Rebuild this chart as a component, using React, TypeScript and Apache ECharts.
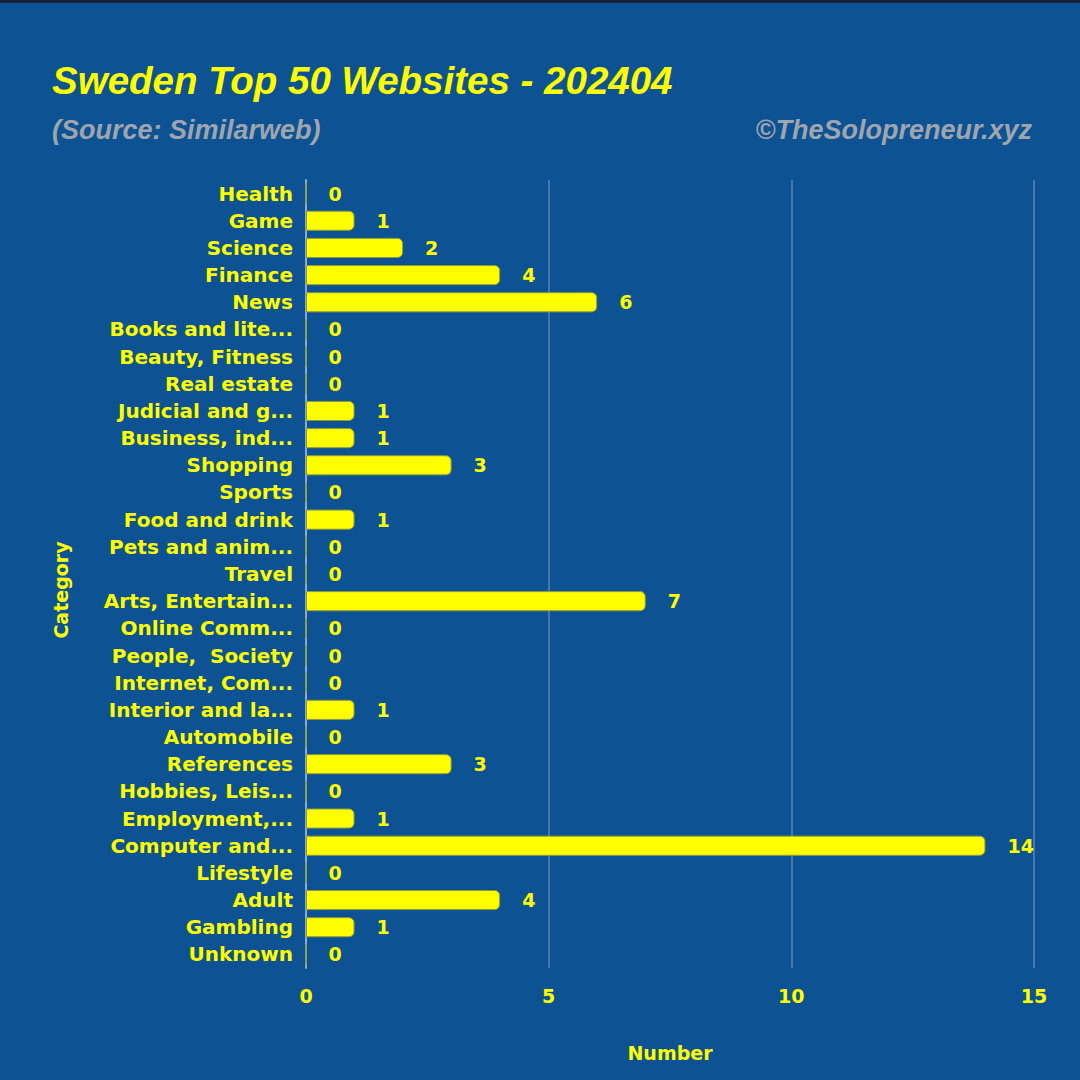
import React, { useEffect, useRef } from "react";
import * as echarts from "echarts";

const categories = [
  "Health", "Game", "Science", "Finance", "News", "Books and lite...", "Beauty, Fitness",
  "Real estate", "Judicial and g...", "Business, ind...", "Shopping", "Sports", "Food and drink",
  "Pets and anim...", "Travel", "Arts, Entertain...", "Online Comm...", "People,  Society",
  "Internet, Com...", "Interior and la...", "Automobile", "References", "Hobbies, Leis...",
  "Employment,...", "Computer and...", "Lifestyle", "Adult", "Gambling", "Unknown",
];
const values = [0, 1, 2, 4, 6, 0, 0, 0, 1, 1, 3, 0, 1, 0, 0, 7, 0, 0, 0, 1, 0, 3, 0, 1, 14, 0, 4, 1, 0];
const xTicks = [0, 5, 10, 15];

const TITLE = "Sweden Top 50 Websites - 202404";
const SUBTITLE = "(Source: Similarweb)";
const CREDIT = "©TheSolopreneur.xyz";

const YELLOW = "#ffff00";
const BG = "#0d5293";

export default function App() {
  const ref = useRef<HTMLDivElement>(null);
  useEffect(() => {
    document.body.style.margin = "0";
    const chart = echarts.init(ref.current!, undefined, { renderer: "svg" });
    chart.setOption({
      animation: false,
      backgroundColor: BG,
      title: [
        {
          text: TITLE, left: 47, top: 56,
          textStyle: { color: YELLOW, fontFamily: "Liberation Sans", fontWeight: "bold", fontStyle: "italic", fontSize: 38.5 },
        },
        {
          text: SUBTITLE, left: 47, top: 111,
          textStyle: { color: "#9fa5ae", fontFamily: "Liberation Sans", fontWeight: "bold", fontStyle: "italic", fontSize: 27 },
        },
        {
          text: CREDIT, right: 43, top: 111,
          textStyle: { color: "#9fa5ae", fontFamily: "Liberation Sans", fontWeight: "bold", fontStyle: "italic", fontSize: 27 },
        },
      ],
      graphic: [
        { type: "rect", shape: { x: 0, y: 0, width: 1080, height: 3 }, style: { fill: "#14233a" } },
      ],
      grid: { left: 306, right: 46, top: 180, bottom: 112, containLabel: false },
      xAxis: {
        type: "value", min: 0, max: 15, interval: 5,
        name: "Number", nameLocation: "middle", nameGap: 75,
        nameTextStyle: { color: YELLOW, fontFamily: "DejaVu Sans", fontWeight: "bold", fontSize: 19 },
        axisLine: { show: false }, axisTick: { show: false },
        axisLabel: {
          color: YELLOW, fontFamily: "DejaVu Sans", fontWeight: "bold", fontSize: 19, margin: 18,
          formatter: (v: number) => (xTicks.includes(v) ? String(v) : ""),
        },
        splitLine: { show: true, lineStyle: { color: "rgba(255,255,255,0.22)", width: 2 } },
      },
      yAxis: {
        type: "category", data: categories, inverse: true,
        name: "Category", nameLocation: "middle", nameGap: 236, nameRotate: 90,
        nameTextStyle: { color: YELLOW, fontFamily: "DejaVu Sans", fontWeight: "bold", fontSize: 19, padding: [0, 32, 0, 0] },
        axisLine: { show: true, lineStyle: { color: "#8fa9c4", width: 2 } },
        axisTick: { show: false },
        axisLabel: { color: YELLOW, fontFamily: "DejaVu Sans", fontWeight: "bold", fontSize: 20, margin: 13 },
      },
      series: [
        {
          type: "bar", data: values, barCategoryGap: "26%",
          itemStyle: { color: YELLOW, borderColor: "#8f9a3c", borderWidth: 1, borderRadius: [0, 5, 5, 0] },
          label: {
            show: true, position: "right", distance: 22, color: YELLOW,
            fontFamily: "DejaVu Sans", fontWeight: "bold", fontSize: 19,
          },
        },
      ],
    });
    return () => chart.dispose();
  }, []);
  return <div ref={ref} style={{ width: 1080, height: 1080 }} />;
}
